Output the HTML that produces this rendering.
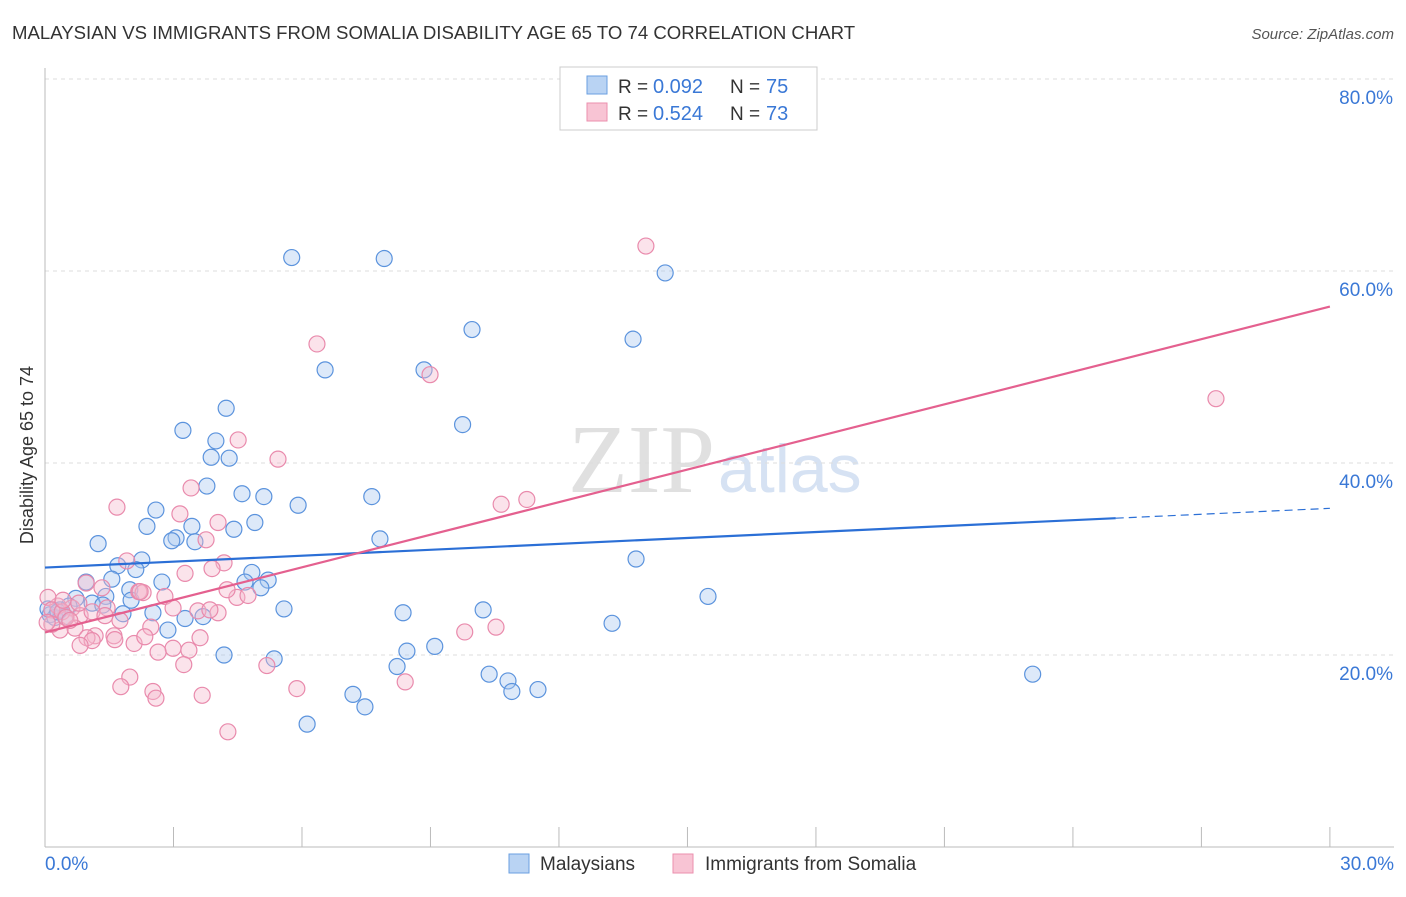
<!DOCTYPE html>
<html><head><meta charset="utf-8"><style>
body{margin:0;background:#fff;font-family:"Liberation Sans",sans-serif;}
</style></head><body>
<svg id="c" width="1406" height="892" style="font-family:'Liberation Sans',sans-serif">
<text x="12" y="39" font-size="18.6" fill="#333">MALAYSIAN VS IMMIGRANTS FROM SOMALIA DISABILITY AGE 65 TO 74 CORRELATION CHART</text>
<text x="1394" y="39" font-size="15" fill="#555" text-anchor="end" font-style="italic">Source: ZipAtlas.com</text>
<text x="715" y="492" font-size="98" fill="#e0e0e0" style="font-family:'Liberation Serif',serif" text-anchor="end">ZIP</text>
<text x="718" y="492" font-size="68" fill="#d6e2f3">atlas</text>
<text transform="translate(33,455) rotate(-90)" font-size="18" fill="#333" text-anchor="middle">Disability Age 65 to 74</text>
<g id="grid"></g><g id="pts"></g><g id="lines"></g>
<g>
<rect x="560" y="67" width="257" height="63" fill="#fff" stroke="#ccc"/>
<rect x="587" y="76" width="20" height="18" fill="#b9d3f3" stroke="#6a9fe0"/>
<rect x="587" y="103" width="20" height="18" fill="#f8c4d4" stroke="#eb8fae"/>
<text x="618" y="93" font-size="19" fill="#333">R = </text><text x="653" y="93" font-size="20" fill="#3a78d6">0.092</text>
<text x="730" y="93" font-size="19" fill="#333">N = </text><text x="766" y="93" font-size="20" fill="#3a78d6">75</text>
<text x="618" y="120" font-size="19" fill="#333">R = </text><text x="653" y="120" font-size="20" fill="#3a78d6">0.524</text>
<text x="730" y="120" font-size="19" fill="#333">N = </text><text x="766" y="120" font-size="20" fill="#3a78d6">73</text>
</g>
<g>
<rect x="509" y="854" width="20" height="19" fill="#b9d3f3" stroke="#6a9fe0"/>
<text x="540" y="870" font-size="19" fill="#333">Malaysians</text>
<rect x="673" y="854" width="20" height="19" fill="#f8c4d4" stroke="#eb8fae"/>
<text x="705" y="870" font-size="19" fill="#333">Immigrants from Somalia</text>
</g>
</svg>
<script>
const yTicks=[20,40,60,80];
const xTickLabels=["0.0%","30.0%"];
const blueX=[5.76,7.92,14.48,9.97,13.73,6.54,8.85,4.23,3.22,9.75,3.99,3.88,4.30,3.78,4.60,5.11,7.63,5.91,2.59,4.90,2.38,4.41,3.43,3.06,2.96,3.50,1.24,7.82,2.26,13.80,1.70,2.12,4.83,1.56,2.73,4.67,5.21,0.96,5.04,1.98,1.42,2.01,15.48,0.72,1.10,2.52,1.82,5.58,0.56,1.35,0.35,0.12,0.23,0.47,3.27,3.69,13.24,8.36,10.23,2.87,9.10,8.45,4.18,5.35,8.22,10.37,10.81,23.06,10.90,11.51,7.19,7.47,6.12,0.07,0.30];
const blueY=[61.4,61.3,59.8,53.9,52.9,49.7,49.7,45.7,43.4,44.0,42.3,40.6,40.5,37.6,36.8,36.5,36.5,35.6,35.1,33.8,33.4,33.1,33.4,32.2,31.9,31.8,31.6,32.1,29.9,30.0,29.3,28.9,28.6,27.9,27.6,27.6,27.8,27.6,27.0,26.8,26.1,25.7,26.1,25.9,25.4,24.4,24.3,24.8,25.1,25.2,24.7,24.2,23.9,24.0,23.8,24.0,23.3,24.4,24.7,22.6,20.9,20.4,20.0,19.6,18.8,18.0,17.3,18.0,16.2,16.4,15.9,14.6,12.8,24.8,24.5];
const pinkX=[14.03,6.35,8.99,27.34,4.51,5.44,3.41,11.25,10.65,1.68,3.15,4.04,3.76,1.91,4.18,3.90,3.27,0.96,1.33,2.19,2.29,2.80,4.48,4.74,1.45,2.99,3.57,4.04,3.85,0.63,0.30,0.07,0.16,0.40,0.82,1.75,2.47,0.70,0.35,1.17,1.61,2.08,0.98,0.16,3.62,2.99,3.36,2.64,1.63,1.10,0.82,10.53,9.80,5.18,3.24,1.98,1.77,5.88,8.41,2.52,2.59,3.67,4.27,0.49,2.22,4.25,0.05,0.58,1.10,1.40,0.79,2.33,0.42];
const pinkY=[62.6,52.4,49.2,46.7,42.4,40.4,37.4,36.2,35.7,35.4,34.7,33.8,32.0,29.8,29.6,29.0,28.5,27.5,27.0,26.6,26.5,26.1,26.0,26.2,24.9,24.9,24.6,24.4,24.7,24.9,25.1,26.0,24.7,24.5,24.1,23.6,22.9,22.8,22.6,22.0,22.0,21.2,21.8,23.2,21.8,20.7,20.5,20.3,21.6,21.5,21.0,22.9,22.4,18.9,19.0,17.7,16.7,16.5,17.2,16.2,15.5,15.8,12.0,23.9,26.6,26.8,23.4,23.6,24.5,24.1,25.4,21.9,25.7];
const X=v=>45+v*42.83, Y=v=>847-v*9.6;
const NS="http://www.w3.org/2000/svg";
function mk(t,a,p){const e=document.createElementNS(NS,t);for(const k in a)e.setAttribute(k,a[k]);p.appendChild(e);return e;}
const g=document.getElementById('grid');
yTicks.forEach(t=>{
 const l=mk('line',{x1:45,x2:1394,y1:Y(t),y2:Y(t),stroke:'#ddd','stroke-dasharray':'4,4'},g);
 
 
 const tx=mk('text',{x:1393,y:Y(t)+25,'font-size':19,fill:'#3a78d6','text-anchor':'end'},g);
 tx.textContent=t.toFixed(1)+'%';
 
 
});
mk('line',{x1:45,x2:45,y1:68,y2:847,stroke:'#bbb'},g);
mk('line',{x1:45,x2:1394,y1:847,y2:847,stroke:'#bbb'},g);
for(let i=1;i<=10;i++){const xx=X(i*3);const l=mk('line',{x1:xx,x2:xx,y1:827,y2:847,stroke:'#bbb'},g);
 
 }
const t0=mk('text',{x:45,y:870,'font-size':19,fill:'#3a78d6'},g);t0.textContent=xTickLabels[0];


const t1=mk('text',{x:1394,y:870,'font-size':19,fill:'#3a78d6','text-anchor':'end'},g);t1.textContent=xTickLabels[1];


const p=document.getElementById('pts');
function pts(xs,ys,f,s,n){xs.forEach((x,i)=>{const c=mk('circle',{cx:X(x),cy:Y(ys[i]),r:8,fill:f,'fill-opacity':0.4,stroke:s,'stroke-width':1.2},p);
 
 });}
pts(blueX,blueY,'#a9c8f0','#5b93dd','malaysian-point');
pts(pinkX,pinkY,'#f6b9cc','#e98aac','somalia-point');
function fit(xs,ys){const n=xs.length;let mx=0,my=0;xs.forEach((x,i)=>{mx+=x;my+=ys[i]});mx/=n;my/=n;let sxy=0,sxx=0;xs.forEach((x,i)=>{sxy+=(x-mx)*(ys[i]-my);sxx+=(x-mx)**2});const b=sxy/sxx;return [my-b*mx,b];}
const L=document.getElementById('lines');
const [ba,bb]=fit(blueX,blueY);
let l=mk('line',{x1:X(0),y1:Y(ba),x2:X(25),y2:Y(ba+bb*25),stroke:'#2b6fd6','stroke-width':2.2},L);


l=mk('line',{x1:X(25),y1:Y(ba+bb*25),x2:X(30),y2:Y(ba+bb*30),stroke:'#2b6fd6','stroke-width':1.2,'stroke-dasharray':'8,5'},L);


const [pa,pb]=fit(pinkX,pinkY);
l=mk('line',{x1:X(0),y1:Y(pa),x2:X(30),y2:Y(pa+pb*30),stroke:'#e4608f','stroke-width':2.2},L);


</script>
</body></html>
